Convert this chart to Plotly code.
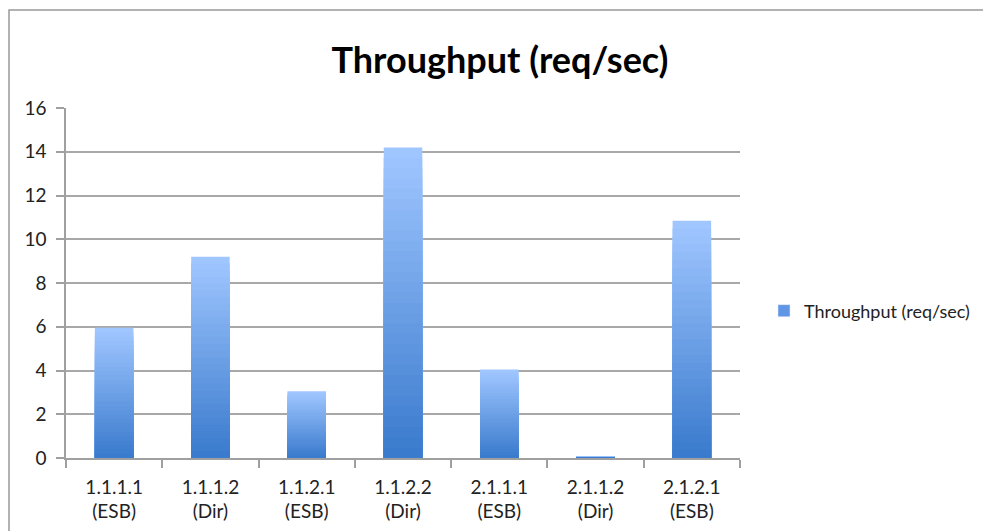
import plotly.graph_objects as go

categories = ["1.1.1.1<br>(ESB)", "1.1.1.2<br>(Dir)", "1.1.2.1<br>(ESB)", "1.1.2.2<br>(Dir)",
              "2.1.1.1<br>(ESB)", "2.1.1.2<br>(Dir)", "2.1.2.1<br>(ESB)"]
throughput = [5.95, 9.2, 3.05, 14.2, 4.05, 0.05, 10.85]
series_name = "Throughput (req/sec)"
y_ticks = [0, 2, 4, 6, 8, 10, 12, 14, 16]

FONT = "Lato"
top_rgb = (160, 198, 255)
bot_rgb = (58, 123, 205)
N = 30

W, H = 983, 531
PL, PT, PR, PB = 66, 108, 740, 458   # plot area in pixels
PW, PH = PR - PL, PB - PT

fig = go.Figure()
for k in range(N):
    t = k / (N - 1)
    c = tuple(round(top_rgb[i] + (bot_rgb[i] - top_rgb[i]) * t) for i in range(3))
    frac = 1 - k / N
    fig.add_trace(go.Bar(
        x=categories, y=[v * frac for v in throughput],
        name=series_name, width=0.4,
        marker=dict(color=f"rgb{c}", line=dict(width=0)),
        showlegend=False, hoverinfo="skip",
    ))
# legend entry
fig.add_trace(go.Bar(x=categories, y=[None] * len(categories), name=series_name,
                     marker=dict(color="rgb(95,150,230)"), showlegend=True))

fig.update_layout(
    width=W, height=H,
    barmode="overlay",
    paper_bgcolor="white", plot_bgcolor="white",
    margin=dict(l=PL, r=W - PR, t=PT, b=H - PB, autoexpand=False),
    title=dict(text="<b>Throughput (req/sec)</b>", x=(500 - PL) / PW, xref="paper", xanchor="center",
               y=(H - 60) / H, yanchor="middle",
               font=dict(family=FONT, size=36, color="black")),
    font=dict(family=FONT, size=19, color="#222222"),
    showlegend=True,
    legend=dict(x=(764 - PL) / PW, y=(PB - 311) / PH, xanchor="left", yanchor="middle",
                font=dict(family=FONT, size=18, color="#222222"), bgcolor="rgba(0,0,0,0)"),
    hovermode=False,
    shapes=[dict(type="rect", xref="paper", yref="paper",
                 x0=(9 - PL) / PW, x1=(1200 - PL) / PW,
                 y0=(PB - 700) / PH, y1=(PB - 10) / PH,
                 line=dict(color="#999999", width=1.5), fillcolor="rgba(0,0,0,0)", layer="below")],
)
fig.update_xaxes(type="category", showline=True, linecolor="#a0a0a0", linewidth=1.5,
                 ticks="outside", tickson="boundaries", ticklen=8, tickcolor="#a0a0a0", tickwidth=1.5,
                 showgrid=False, tickfont=dict(size=19), ticklabelstandoff=11, automargin=False)
fig.update_yaxes(range=[0, 16], tickvals=y_ticks, showline=True, linecolor="#a0a0a0", linewidth=1.5,
                 ticks="outside", ticklen=8, tickcolor="#a0a0a0", tickwidth=1.5,
                 showgrid=True, gridcolor="#a8a8a8", gridwidth=1.5, zeroline=False,
                 tickfont=dict(size=19), ticklabelstandoff=6, automargin=False)

fig.write_html("out.html", config={"displayModeBar": False},
               post_script="document.body.style.margin='0';document.body.style.overflow='hidden';")
